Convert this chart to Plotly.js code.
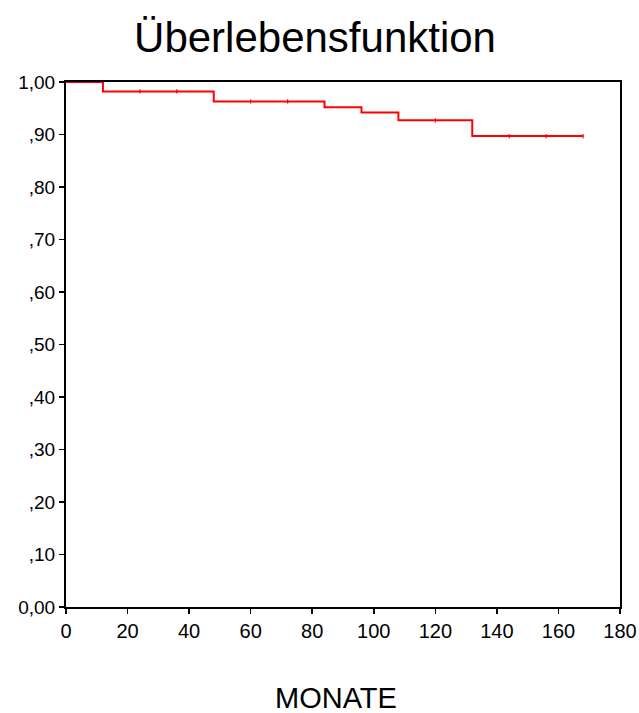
<!DOCTYPE html>
<html>
<head>
<meta charset="utf-8">
<script src="https://cdn.plot.ly/plotly-3.0.1.min.js"></script>
<style>html,body{margin:0;padding:0;background:#fff;}#chart{width:639px;height:713px;}</style>
</head>
<body>
<div id="chart"></div>
<script>
// Step survival function (Kaplan-Meier)
const stepTimes = [0, 12, 48, 84, 96, 108, 132, 168];
const stepSurvival = [1.0, 0.982, 0.963, 0.952, 0.942, 0.927, 0.897, 0.897];
// Censored observations
const censorTimes = [24, 36, 60, 72, 120, 144, 156, 168];
const censorSurvival = [0.982, 0.982, 0.963, 0.963, 0.927, 0.897, 0.897, 0.897];
// Axis ticks
const yTickVals = [0, 0.1, 0.2, 0.3, 0.4, 0.5, 0.6, 0.7, 0.8, 0.9, 1.0];
const yTickText = ["0,00", ",10", ",20", ",30", ",40", ",50", ",60", ",70", ",80", ",90", "1,00"];
const xTickVals = [0, 20, 40, 60, 80, 100, 120, 140, 160, 180];

const font = "Liberation Sans, Arial, Helvetica, sans-serif";

const traces = [
  {
    x: stepTimes, y: stepSurvival, type: "scatter", mode: "lines",
    line: {shape: "hv", color: "#ff0000", width: 2},
    hoverinfo: "skip", showlegend: false, cliponaxis: false
  },
  {
    x: censorTimes, y: censorSurvival, type: "scatter", mode: "markers",
    marker: {symbol: "line-ns", size: 3, line: {color: "#ff0000", width: 1.2}},
    hoverinfo: "skip", showlegend: false, cliponaxis: false
  }
];

const layout = {
  width: 639, height: 713,
  margin: {l: 66, r: 19, t: 82, b: 106},
  paper_bgcolor: "#ffffff", plot_bgcolor: "#ffffff",
  title: {text: "Überlebensfunktion", font: {family: font, size: 42, color: "#000"}, x: 0.493, xanchor: "center", y: 0.948, yanchor: "middle"},
  showlegend: false,
  xaxis: {
    range: [0, 180], tickvals: xTickVals, ticks: "outside", ticklen: 5, tickwidth: 1.5, tickcolor: "#000",
    showline: true, linecolor: "#000", linewidth: 2, mirror: true, showgrid: false, zeroline: false,
    tickfont: {family: font, size: 20, color: "#000"},
    layer: "below traces"
  },
  yaxis: {
    range: [0, 1], tickvals: yTickVals, ticktext: yTickText, ticks: "outside", ticklen: 5, tickwidth: 1.5, tickcolor: "#000",
    showline: true, linecolor: "#000", linewidth: 2, mirror: true, showgrid: false, zeroline: false,
    tickfont: {family: font, size: 19, color: "#000"},
    layer: "below traces"
  },
  annotations: [{
    text: "MONATE", xref: "paper", yref: "paper", x: 0.487, y: -0.174,
    xanchor: "center", yanchor: "middle", showarrow: false,
    font: {family: font, size: 29, color: "#000"}
  }]
};

Plotly.newPlot("chart", traces, layout, {displayModeBar: false, staticPlot: true});
</script>
</body>
</html>
